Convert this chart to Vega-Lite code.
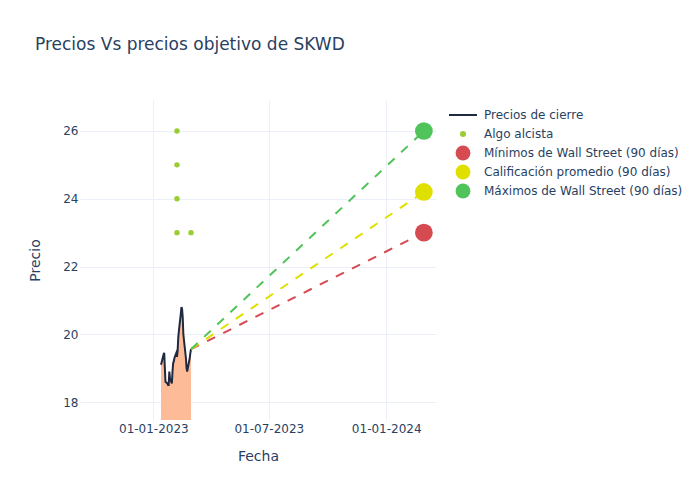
{
  "$schema": "https://vega.github.io/schema/vega-lite/v6.json",
  "autosize": {"type": "none"},
  "padding": {"left": 80, "top": 100, "right": 264, "bottom": 80},
  "width": 356,
  "height": 320,
  "background": "white",
  "config": {
    "font": "DejaVu Sans",
    "view": {"stroke": null},
    "axis": {
      "labelColor": "#2a3f5f",
      "titleColor": "#2a3f5f",
      "labelFontSize": 12,
      "titleFontSize": 14,
      "titleFontWeight": "normal",
      "gridColor": "#ebf0f8",
      "gridWidth": 1,
      "domain": false,
      "ticks": false
    },
    "legend": {"labelColor": "#2a3f5f", "labelFontSize": 12, "padding": 0, "labelLimit": 400}
  },
  "title": {
    "text": "Precios Vs precios objetivo de SKWD",
    "anchor": "start",
    "frame": "group",
    "dx": -45,
    "fontSize": 17,
    "fontWeight": "normal",
    "color": "#2a3f5f",
    "baseline": "alphabetic",
    "offset": 33
  },
  "datasets": {
    "precios": [
      {"serie": "Precios de cierre", "fecha": "2023-01-13", "precio": 19.1},
      {"serie": "Precios de cierre", "fecha": "2023-01-17", "precio": 19.4},
      {"serie": "Precios de cierre", "fecha": "2023-01-18", "precio": 19.45},
      {"serie": "Precios de cierre", "fecha": "2023-01-19", "precio": 19.0},
      {"serie": "Precios de cierre", "fecha": "2023-01-20", "precio": 18.6},
      {"serie": "Precios de cierre", "fecha": "2023-01-23", "precio": 18.55},
      {"serie": "Precios de cierre", "fecha": "2023-01-24", "precio": 18.5},
      {"serie": "Precios de cierre", "fecha": "2023-01-25", "precio": 18.5},
      {"serie": "Precios de cierre", "fecha": "2023-01-26", "precio": 18.9},
      {"serie": "Precios de cierre", "fecha": "2023-01-27", "precio": 18.7},
      {"serie": "Precios de cierre", "fecha": "2023-01-30", "precio": 18.55},
      {"serie": "Precios de cierre", "fecha": "2023-01-31", "precio": 18.9},
      {"serie": "Precios de cierre", "fecha": "2023-02-01", "precio": 19.15},
      {"serie": "Precios de cierre", "fecha": "2023-02-02", "precio": 19.2},
      {"serie": "Precios de cierre", "fecha": "2023-02-03", "precio": 19.3},
      {"serie": "Precios de cierre", "fecha": "2023-02-06", "precio": 19.45},
      {"serie": "Precios de cierre", "fecha": "2023-02-07", "precio": 19.33},
      {"serie": "Precios de cierre", "fecha": "2023-02-08", "precio": 19.5},
      {"serie": "Precios de cierre", "fecha": "2023-02-09", "precio": 19.9},
      {"serie": "Precios de cierre", "fecha": "2023-02-10", "precio": 20.1},
      {"serie": "Precios de cierre", "fecha": "2023-02-13", "precio": 20.6},
      {"serie": "Precios de cierre", "fecha": "2023-02-14", "precio": 20.8},
      {"serie": "Precios de cierre", "fecha": "2023-02-15", "precio": 20.75},
      {"serie": "Precios de cierre", "fecha": "2023-02-16", "precio": 20.5},
      {"serie": "Precios de cierre", "fecha": "2023-02-17", "precio": 20.0},
      {"serie": "Precios de cierre", "fecha": "2023-02-21", "precio": 19.3},
      {"serie": "Precios de cierre", "fecha": "2023-02-22", "precio": 19.0},
      {"serie": "Precios de cierre", "fecha": "2023-02-23", "precio": 18.9},
      {"serie": "Precios de cierre", "fecha": "2023-02-24", "precio": 19.0},
      {"serie": "Precios de cierre", "fecha": "2023-02-27", "precio": 19.3},
      {"serie": "Precios de cierre", "fecha": "2023-02-28", "precio": 19.45},
      {"serie": "Precios de cierre", "fecha": "2023-03-01", "precio": 19.56}
    ],
    "algo": [
      {"serie": "Algo alcista", "fecha": "2023-02-07", "precio": 26},
      {"serie": "Algo alcista", "fecha": "2023-02-07", "precio": 25},
      {"serie": "Algo alcista", "fecha": "2023-02-07", "precio": 24},
      {"serie": "Algo alcista", "fecha": "2023-02-07", "precio": 23},
      {"serie": "Algo alcista", "fecha": "2023-03-01", "precio": 23}
    ],
    "proyecciones": [
      {"serie": "Mínimos de Wall Street (90 días)", "fecha": "2023-03-01", "precio": 19.56},
      {"serie": "Mínimos de Wall Street (90 días)", "fecha": "2024-02-29", "precio": 23.0},
      {"serie": "Calificación promedio (90 días)", "fecha": "2023-03-01", "precio": 19.56},
      {"serie": "Calificación promedio (90 días)", "fecha": "2024-02-29", "precio": 24.2},
      {"serie": "Máximos de Wall Street (90 días)", "fecha": "2023-03-01", "precio": 19.56},
      {"serie": "Máximos de Wall Street (90 días)", "fecha": "2024-02-29", "precio": 26.0}
    ],
    "objetivos": [
      {"serie": "Mínimos de Wall Street (90 días)", "fecha": "2024-02-29", "precio": 23.0},
      {"serie": "Calificación promedio (90 días)", "fecha": "2024-02-29", "precio": 24.2},
      {"serie": "Máximos de Wall Street (90 días)", "fecha": "2024-02-29", "precio": 26.0}
    ]
  },
  "encoding": {
    "x": {
      "field": "fecha",
      "type": "temporal",
      "title": "Fecha",
      "scale": {"domain": [{"year": 2022, "month": 9, "date": 8}, {"year": 2024, "month": 3, "date": 19}]},
      "axis": {
        "values": [
          {"year": 2023, "month": 1, "date": 1},
          {"year": 2023, "month": 7, "date": 1},
          {"year": 2024, "month": 1, "date": 1}
        ],
        "format": "%d-%m-%Y",
        "labelPadding": 3,
        "titlePadding": 15
      }
    },
    "y": {
      "field": "precio",
      "type": "quantitative",
      "title": "Precio",
      "scale": {"domain": [17.469, 26.915], "zero": false, "nice": false},
      "axis": {"values": [18, 20, 22, 24, 26], "labelPadding": 2, "titlePadding": 20}
    }
  },
  "layer": [
    {
      "data": {"name": "precios"},
      "mark": {"type": "area", "color": "#fdbb97", "opacity": 1, "clip": true}
    },
    {
      "data": {"name": "precios"},
      "mark": {"type": "line", "strokeWidth": 2, "clip": true},
      "encoding": {
        "color": {
          "field": "serie",
          "type": "nominal",
          "scale": {
            "domain": ["Precios de cierre", "Algo alcista", "Mínimos de Wall Street (90 días)", "Calificación promedio (90 días)", "Máximos de Wall Street (90 días)"],
            "range": ["#1f2940", "#9acd32", "#d64a52", "#dfdf00", "#50c35a"]
          },
          "legend": {
            "title": null,
            "orient": "none",
            "legendX": 369,
            "legendY": 6,
            "symbolSize": 256,
            "symbolStrokeWidth": 1.5,
            "symbolOffset": 8,
            "labelOffset": 15,
            "rowPadding": 1,
            "clipHeight": 18,
            "encode": {
              "symbols": {
                "update": {
                  "shape": {"signal": "datum.value === 'Precios de cierre' ? 'stroke' : 'circle'"},
                  "size": {"signal": "datum.value === 'Precios de cierre' ? 784 : (datum.value === 'Algo alcista' ? 36 : 220)"},
                  "fill": {"signal": "datum.value === 'Precios de cierre' ? 'transparent' : (datum.value === 'Algo alcista' ? '#9acd32' : (datum.value === 'Mínimos de Wall Street (90 días)' ? '#d64a52' : (datum.value === 'Calificación promedio (90 días)' ? '#dfdf00' : '#50c35a')))"},
                  "stroke": {"signal": "datum.value === 'Precios de cierre' ? '#1f2940' : 'transparent'"},
                  "strokeWidth": {"signal": "datum.value === 'Precios de cierre' ? 2 : 0"},
                  "opacity": {"value": 1}
                }
              }
            }
          }
        }
      }
    },
    {
      "data": {"name": "proyecciones"},
      "mark": {"type": "line", "strokeWidth": 2, "strokeDash": [9, 9], "clip": true},
      "encoding": {
        "color": {"field": "serie", "type": "nominal"},
        "detail": {"field": "serie"}
      }
    },
    {
      "data": {"name": "algo"},
      "mark": {"type": "point", "filled": true, "opacity": 1, "size": 30, "clip": true},
      "encoding": {"color": {"field": "serie", "type": "nominal"}}
    },
    {
      "data": {"name": "objetivos"},
      "mark": {"type": "point", "filled": true, "opacity": 1, "size": 314},
      "encoding": {"color": {"field": "serie", "type": "nominal"}}
    }
  ]
}
